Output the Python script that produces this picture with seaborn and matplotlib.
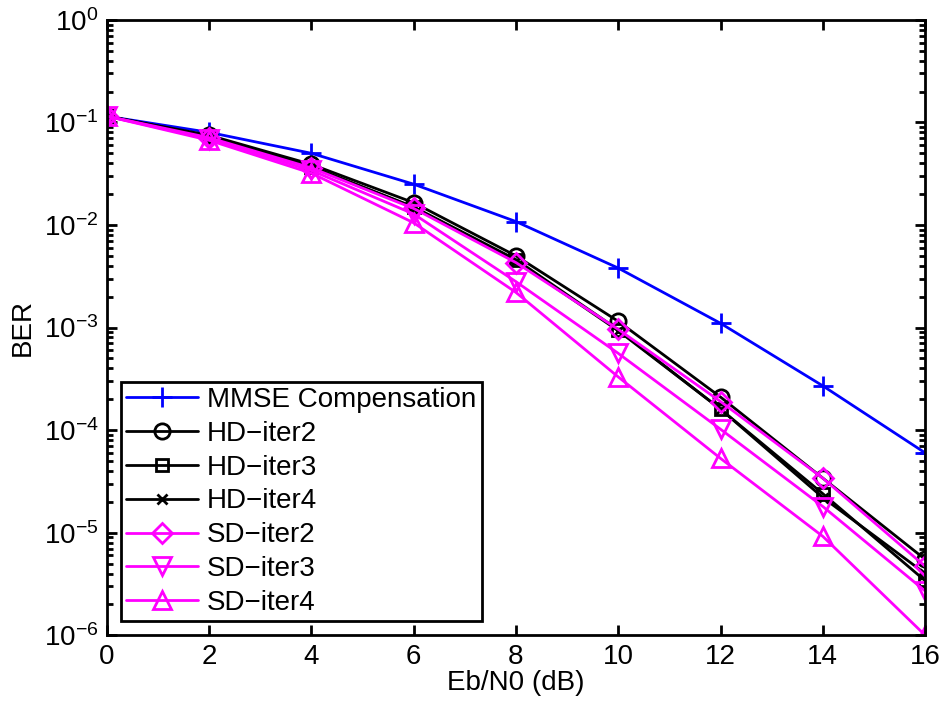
import numpy as np
import pandas as pd
import matplotlib
matplotlib.use("Agg")
import matplotlib.pyplot as plt
import seaborn as sns

# Eb/N0 grid and BER curves
ebn0 = [0, 2, 4, 6, 8, 10, 12, 14, 16]
mmse = [0.115, 0.080, 0.050, 0.025, 0.0108, 0.0038, 1.1e-3, 2.7e-4, 6.0e-5]
hd_iter2 = [0.115, 0.075, 0.039, 0.0165, 5.0e-3, 1.15e-3, 2.1e-4, 3.4e-5, 5.5e-6]
hd_iter3 = [0.115, 0.073, 0.037, 0.0150, 4.6e-3, 9.5e-4, 1.6e-4, 2.4e-5, 3.4e-6]
hd_iter4 = [0.115, 0.073, 0.037, 0.0148, 4.5e-3, 9.3e-4, 1.6e-4, 2.2e-5, 4.0e-6]
sd_iter2 = [0.115, 0.071, 0.036, 0.0145, 4.3e-3, 9.6e-4, 1.9e-4, 3.4e-5, 4.7e-6]
sd_iter3 = [0.115, 0.069, 0.034, 0.0128, 2.8e-3, 5.6e-4, 1.02e-4, 1.8e-5, 2.7e-6]
sd_iter4 = [0.115, 0.067, 0.032, 0.0105, 2.2e-3, 3.3e-4, 5.3e-5, 9.2e-6, 1.0e-6]

names = ["MMSE Compensation", "HD\u2212iter2", "HD\u2212iter3", "HD\u2212iter4",
         "SD\u2212iter2", "SD\u2212iter3", "SD\u2212iter4"]
series = [mmse, hd_iter2, hd_iter3, hd_iter4, sd_iter2, sd_iter3, sd_iter4]
colors = ["#0000ff", "black", "black", "black", "#ff00ff", "#ff00ff", "#ff00ff"]
markers = ["+", "o", "s", "x", "D", "v", "^"]
msizes = [14, 11, 9, 7, 10, 13, 13]

sns.set_style("ticks")
plt.rcParams['font.family'] = ['Liberation Sans', 'DejaVu Sans']
plt.rcParams['mathtext.fontset'] = 'custom'
plt.rcParams['mathtext.rm'] = 'Liberation Sans'
plt.rcParams['text.color'] = 'black'
plt.rcParams['axes.labelcolor'] = 'black'
plt.rcParams['xtick.color'] = 'black'
plt.rcParams['ytick.color'] = 'black'
plt.rcParams['axes.edgecolor'] = 'black'

fig = plt.figure(figsize=(9.45, 7.09), dpi=100)
ax = fig.add_axes([0.113, 0.104, 0.866, 0.868])

for name, vals, c, m, ms in zip(names, series, colors, markers, msizes):
    df = pd.DataFrame({"x": ebn0, "y": vals})
    sns.lineplot(data=df, x="x", y="y", ax=ax, color=c, marker=m,
                 markersize=ms, markerfacecolor="none", markeredgecolor=c,
                 markeredgewidth=2, linewidth=2, label=name)

ax.set_yscale("log")
ax.set_xlim(0, 16)
ax.set_ylim(1e-6, 1)
ax.set_xticks(ebn0)
ax.xaxis.set_minor_locator(matplotlib.ticker.NullLocator())
ax.set_yticks([1e-6, 1e-5, 1e-4, 1e-3, 1e-2, 1e-1, 1])
ax.set_xlabel("Eb/N0 (dB)", fontsize=20, labelpad=0)
ax.set_ylabel("BER", fontsize=20, labelpad=6)
ax.tick_params(which="both", direction="in", top=True, right=True,
               labelsize=20, width=2)
ax.tick_params(which="major", length=7, pad=6)
ax.tick_params(which="minor", length=4)
for s in ax.spines.values():
    s.set_linewidth(2)

leg = ax.legend(loc="lower left", fontsize=20, frameon=True, fancybox=False,
                edgecolor="black", framealpha=1, borderpad=0.2,
                labelspacing=0.28, handlelength=2.6, handletextpad=0.3,
                borderaxespad=0.5)
leg.get_frame().set_linewidth(2)

fig.savefig("out.png", dpi=100)
